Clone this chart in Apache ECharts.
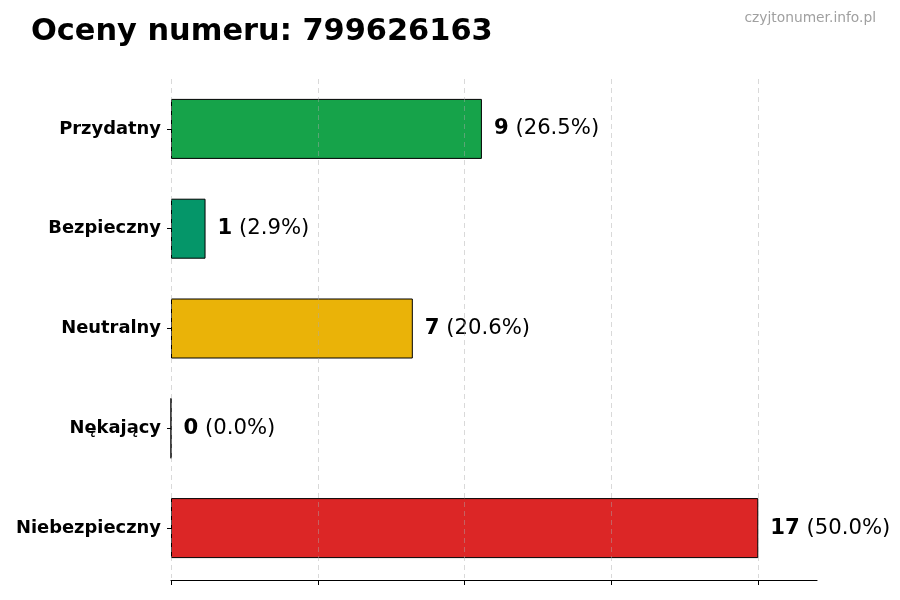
<!DOCTYPE html>
<html>
<head>
<meta charset="utf-8">
<script src="https://cdn.jsdelivr.net/npm/echarts@6/dist/echarts.min.js"></script>
<style>
html, body { margin: 0; padding: 0; background: #fff; }
#chart { width: 900px; height: 600px; }
</style>
</head>
<body>
<div id="chart"></div>
<script>
var categories = ['Przydatny', 'Bezpieczny', 'Neutralny', 'Nękający', 'Niebezpieczny'];
var counts = [9, 1, 7, 0, 17];
var percents = ['26.5%', '2.9%', '20.6%', '0.0%', '50.0%'];
var colors = ['#16a34a', '#059669', '#eab308', '#f97316', '#dc2626'];

var maxCount = Math.max.apply(null, counts);
var ticks = [0, 1, 2, 3, 4].map(function (i) { return maxCount * i / 4; });

var chart = echarts.init(document.getElementById('chart'));

var option = {
    backgroundColor: '#fff',
    animation: false,
    title: [{
        text: 'Oceny numeru: 799626163',
        left: 26,
        top: 12,
        textStyle: { fontFamily: 'DejaVu Sans', fontSize: 30.4, fontWeight: 'bold', color: '#000' }
    }, {
        text: 'czyjtonumer.info.pl',
        right: 19,
        top: 6,
        textStyle: { fontFamily: 'DejaVu Sans', fontSize: 13.8, fontWeight: 'normal', color: '#a0a0a0' }
    }],
    grid: { left: 171, right: 83, top: 79, bottom: 22 },
    xAxis: {
        type: 'value',
        min: 0,
        max: maxCount * 1.1,
        offset: 2,
        z: 5,
        axisLine: { show: true, lineStyle: { color: '#000', width: 1.2 } },
        axisTick: { show: true, length: 5, customValues: ticks, lineStyle: { color: '#000' } },
        axisLabel: { show: false, customValues: ticks },
        splitLine: { show: true, lineStyle: { type: [5, 4], color: 'rgba(170,170,170,0.45)', width: 1 } }
    },
    yAxis: {
        type: 'category',
        inverse: true,
        data: categories,
        axisLine: { show: false },
        axisTick: { show: true, alignWithLabel: true, length: 4, lineStyle: { color: '#000' } },
        axisLabel: { fontFamily: 'DejaVu Sans', fontSize: 17.9, fontWeight: 'bold', color: '#000', margin: 10 }
    },
    series: [{
        type: 'bar',
        barWidth: 60,
        data: counts.map(function (v, i) {
            return {
                value: v,
                itemStyle: { color: colors[i], borderColor: '#000', borderWidth: 1 }
            };
        }),
        label: {
            show: true,
            position: 'right',
            distance: 12,
            formatter: function (p) {
                return '{b|' + counts[p.dataIndex] + '}{n| (' + percents[p.dataIndex] + ')}';
            },
            rich: {
                b: { fontFamily: 'DejaVu Sans', fontSize: 21.2, fontWeight: 'bold', color: '#000' },
                n: { fontFamily: 'DejaVu Sans', fontSize: 21.2, color: '#000' }
            }
        }
    }]
};

chart.setOption(option);
</script>
</body>
</html>
